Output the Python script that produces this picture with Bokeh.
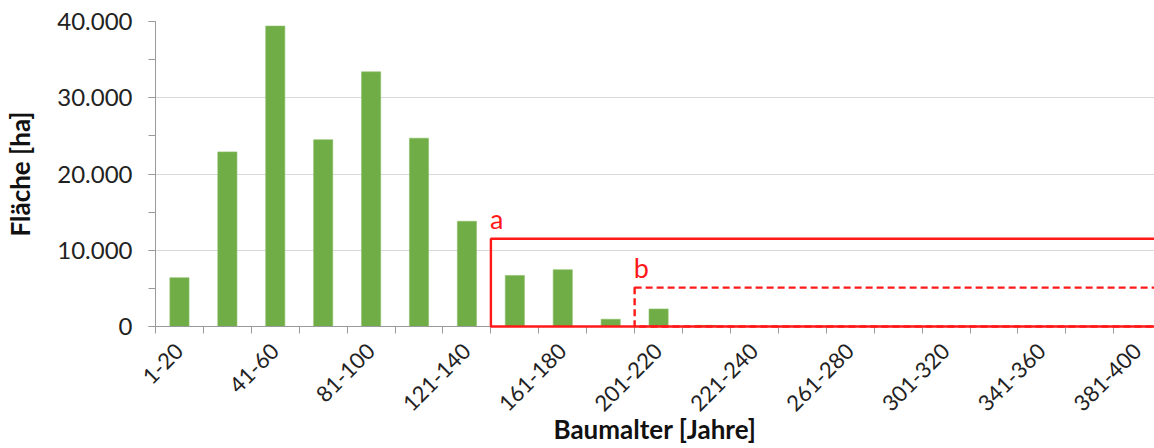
from bokeh.plotting import figure
from bokeh.models import Range1d, FixedTicker
from bokeh.core.properties import value
from bokeh.embed import file_html
from bokeh.resources import INLINE

categories = ["1-20", "21-40", "41-60", "61-80", "81-100", "101-120", "121-140",
              "141-160", "161-180", "181-200", "201-220", "211-220", "221-240",
              "241-260", "261-280", "281-300", "301-320", "321-340", "341-360",
              "361-380", "381-400"]
flaeche_ha = [6400, 22900, 39400, 24500, 33400, 24700, 13800,
              6700, 7450, 950, 2300, 150, 0,
              0, 0, 0, 0, 0, 0, 0, 0]
y_tick_values = [0, 10000, 20000, 30000, 40000]
y_tick_labels = ["0", "10.000", "20.000", "30.000", "40.000"]
box_names = ["a", "b"]
box_start_cat = ["141-160", "201-220"]
box_top = [11500, 5100]
box_dash = ["solid", "7 4"]

FONT = "Lato"
RED = "#FF1A1A"
AXIS = "#9a9a9a"

n = len(categories)
centers = [i + 0.5 for i in range(n)]

p = figure(width=1154, height=448, output_backend="svg", toolbar_location=None,
           x_range=Range1d(0, 20.85), y_range=Range1d(0, 40000),
           min_border_left=155, min_border_right=0, min_border_top=21,
           min_border_bottom=121)
p.outline_line_color = None
p.background_fill_color = "white"
p.border_fill_color = "white"

p.vbar(x=centers, top=flaeche_ha, width=0.4, fill_color="#70AD47",
       line_color="#8CC068", line_width=0.6)

for name, cat, top, dash in zip(box_names, box_start_cat, box_top, box_dash):
    left = categories.index(cat)
    p.quad(left=[left], right=[n + 1], bottom=[0], top=[top],
           fill_color=None, line_color=RED, line_width=2.4, line_dash=dash,
           level="overlay")
    p.text(x=[left], y=[top], text=[name], text_color=RED,
           text_font=value(FONT), text_font_size="27px",
           text_baseline="bottom", text_align="left",
           x_offset=-1, y_offset=-4)

# x axis
xa = p.xaxis[0]
xa.ticker = FixedTicker(ticks=centers[::2], minor_ticks=list(range(n + 1)))
xa.major_label_overrides = {c: lab for c, lab in zip(centers[::2], categories[::2])}
xa.major_label_orientation = 0.785398
xa.major_tick_out = 0
xa.major_tick_in = 0
xa.minor_tick_out = 7
xa.minor_tick_in = 0
xa.minor_tick_line_color = AXIS
xa.axis_line_color = AXIS
xa.major_label_standoff = 14
xa.major_label_text_font = FONT
xa.major_label_text_font_size = "22px"
xa.major_label_text_color = "#222222"
xa.axis_label = "Baumalter [Jahre]"
xa.axis_label_text_font = FONT
xa.axis_label_text_font_style = "bold"
xa.axis_label_text_font_size = "26px"
xa.axis_label_text_color = "#111111"
xa.axis_label_standoff = -8

# y axis
ya = p.yaxis[0]
ya.ticker = FixedTicker(ticks=y_tick_values, minor_ticks=list(range(0, 40001, 5000)))
ya.major_label_overrides = {v: lab for v, lab in zip(y_tick_values, y_tick_labels)}
ya.major_tick_out = 7
ya.major_tick_in = 0
ya.minor_tick_out = 7
ya.minor_tick_in = 0
ya.major_tick_line_color = AXIS
ya.minor_tick_line_color = AXIS
ya.axis_line_color = AXIS
ya.major_label_standoff = 16
ya.major_label_text_font = FONT
ya.major_label_text_font_size = "24px"
ya.major_label_text_color = "#222222"
ya.axis_label = "Fläche [ha]"
ya.axis_label_text_font = FONT
ya.axis_label_text_font_style = "bold"
ya.axis_label_text_font_size = "26px"
ya.axis_label_text_color = "#111111"
ya.axis_label_standoff = 18

p.xgrid.visible = False
p.ygrid.ticker = FixedTicker(ticks=y_tick_values)
p.ygrid.grid_line_color = "#d9d9d9"
p.ygrid.grid_line_width = 1

open("out.html", "w").write(file_html(p, INLINE))
